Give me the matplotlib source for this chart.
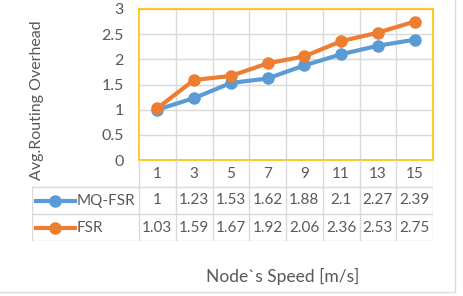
import matplotlib.pyplot as plt
from matplotlib.patches import Rectangle

speeds = ['1', '3', '5', '7', '9', '11', '13', '15']
mq_fsr = [1, 1.23, 1.53, 1.62, 1.88, 2.1, 2.27, 2.39]
fsr = [1.03, 1.59, 1.67, 1.92, 2.06, 2.36, 2.53, 2.75]
series = [('MQ-FSR', mq_fsr, '#5B9BD5'), ('FSR', fsr, '#ED7D31')]

plt.rcParams['font.family'] = ['Lato', 'DejaVu Sans']
W, H = 463, 296
txt = '#595959'
grid_c = '#D9D9D9'

fig = plt.figure(figsize=(W / 100, H / 100), dpi=100)

def px_axes(x0, y0, x1, y1):
    return fig.add_axes([x0 / W, 1 - y1 / H, (x1 - x0) / W, (y1 - y0) / H])

# plot area
ax = px_axes(139, 9, 433, 160)
x = list(range(len(speeds)))
for name, vals, col in series:
    ax.plot(x, vals, color=col, lw=3, marker='o', ms=8, zorder=3)
ax.set_xlim(-0.5, len(speeds) - 0.5)
ax.set_ylim(0, 3)
ax.set_yticks([0, 0.5, 1, 1.5, 2, 2.5, 3])
ax.set_yticklabels(['0', '0.5', '1', '1.5', '2', '2.5', '3'])
ax.set_xticks([i + 0.5 for i in range(len(speeds) - 1)])
ax.tick_params(axis='x', length=0, labelbottom=False)
ax.tick_params(axis='y', length=0, colors=txt, labelsize=11.5, pad=11)
ax.grid(True, color=grid_c, lw=1)
ax.set_axisbelow(True)
for s in ax.spines.values():
    s.set_color('#FFC000')
    s.set_linewidth(1.2)

fig.text(37 / W, 1 - 100 / H, 'Avg.Routing Overhead', rotation=90, ha='center',
         va='center', color=txt, fontsize=11.5)

# data table
left = (139 - 32) / ((433 - 139) / len(speeds))
tb = px_axes(32, 160, 433, 241)
tb.set_xlim(-0.5 - left, len(speeds) - 0.5)
tb.set_ylim(3, 0)
tb.axis('off')
n = len(speeds)
for i in range(n + 1):
    tb.plot([i - 0.5, i - 0.5], [0, 3], color=grid_c, lw=1)
tb.plot([-0.5 - left, -0.5 - left], [1, 3], color=grid_c, lw=1)
for r in (1, 2, 3):
    tb.plot([-0.5 - left, n - 0.5], [r, r], color=grid_c, lw=1)
for i, s in enumerate(speeds):
    tb.text(i, 0.5, s, ha='center', va='center', color=txt, fontsize=11)
for r, (name, vals, col) in enumerate(series, start=1):
    x0 = -0.5 - left
    tb.plot([x0 + 0.1, x0 + 1.17], [r + 0.5, r + 0.5], color=col, lw=3)
    tb.plot([x0 + 0.63], [r + 0.5], color=col, marker='o', ms=8)
    tb.text(x0 + 1.22, r + 0.5, name, ha='left', va='center', color=txt, fontsize=11)
    for i, v in enumerate(vals):
        tb.text(i, r + 0.5, f'{v:g}', ha='center', va='center', color=txt, fontsize=11)

fig.text(283 / W, 1 - 276 / H, 'Node`s Speed [m/s]', ha='center', va='center',
         color=txt, fontsize=12.5)

fig.patches.append(Rectangle((-0.01, 1 - 292 / H), 455 / W + 0.01, 292 / H + 0.01,
                             transform=fig.transFigure, fill=False,
                             edgecolor='#D6DCE4', lw=1))

fig.savefig('out.png', dpi=100)
